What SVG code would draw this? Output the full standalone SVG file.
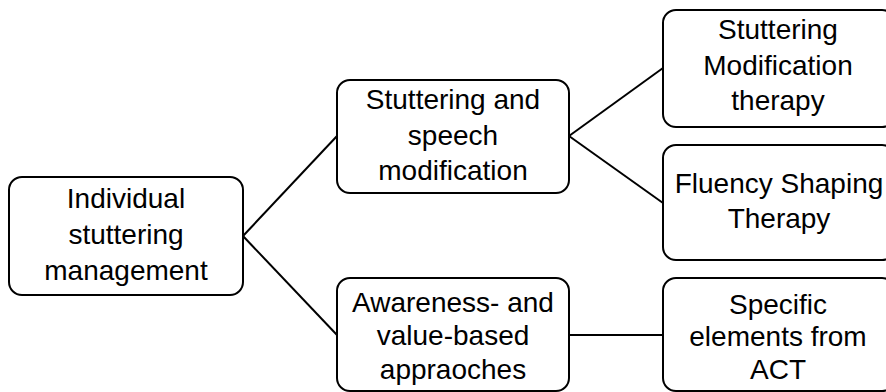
<svg xmlns="http://www.w3.org/2000/svg" width="886" height="392" viewBox="0 0 886 392">
<style>
.box{fill:#fff;stroke:#000;stroke-width:2}
.t{font-family:"Liberation Sans",Arial,sans-serif;font-size:28px;fill:#000;text-anchor:middle}
.c{stroke:#000;stroke-width:2;fill:none}
</style>
<rect width="886" height="392" fill="#fff"/>
<g id="connectors">
<line class="c" x1="243" y1="236" x2="337" y2="136"/>
<line class="c" x1="243" y1="236" x2="337" y2="335"/>
<line class="c" x1="569" y1="136" x2="663" y2="68"/>
<line class="c" x1="569" y1="136" x2="663" y2="203"/>
<line class="c" x1="569" y1="335" x2="663" y2="335"/>
</g>
<g id="n-individual">
<rect class="box" x="9" y="177" width="234" height="118" rx="13"/>
<text class="t" x="126" y="208">Individual</text>
<text class="t" x="126" y="244">stuttering</text>
<text class="t" x="126" y="280">management</text>
</g>
<g id="n-speech">
<rect class="box" x="337" y="80" width="232" height="113" rx="13"/>
<text class="t" x="453" y="109">Stuttering and</text>
<text class="t" x="453" y="145">speech</text>
<text class="t" x="453" y="180">modification</text>
</g>
<g id="n-awareness">
<rect class="box" x="337" y="278" width="232" height="113" rx="13"/>
<text class="t" x="453" y="312">Awareness- and</text>
<text class="t" x="453" y="345">value-based</text>
<text class="t" x="453" y="379">appraoches</text>
</g>
<g id="n-smt">
<rect class="box" x="663" y="10" width="232" height="117" rx="13"/>
<text class="t" x="778" y="39">Stuttering</text>
<text class="t" x="778" y="75">Modification</text>
<text class="t" x="778" y="110">therapy</text>
</g>
<g id="n-fst">
<rect class="box" x="663" y="145" width="232" height="115" rx="13"/>
<text class="t" x="779" y="193">Fluency Shaping</text>
<text class="t" x="779" y="228">Therapy</text>
</g>
<g id="n-act">
<rect class="box" x="663" y="278" width="232" height="113" rx="13"/>
<text class="t" x="778" y="314">Specific</text>
<text class="t" x="778" y="346">elements from</text>
<text class="t" x="778" y="379">ACT</text>
</g>
</svg>
